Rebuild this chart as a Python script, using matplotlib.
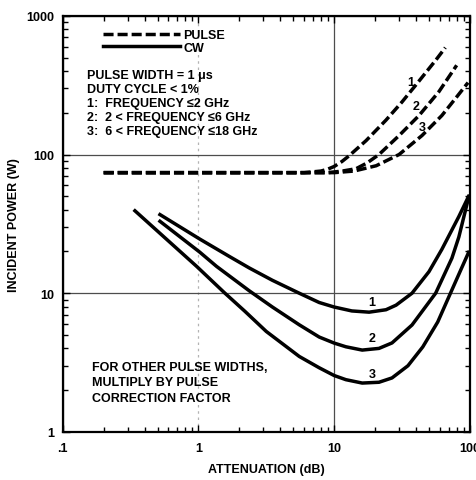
import numpy as np
from matplotlib import pyplot as plt

plt.rcParams['font.family'] = ['Liberation Sans', 'DejaVu Sans']
plt.rcParams['font.weight'] = 'bold'
plt.rcParams['axes.labelweight'] = 'bold'

# curves (attenuation dB, incident power W)
pulse1_db = [0.2, 1, 3, 6, 8, 9, 10, 11.4, 12.9, 17.2, 24.1, 31.6, 40.1, 56.2, 66]
pulse1_w = [74, 74, 74, 74, 76, 78.5, 82, 89, 98, 126, 177, 239, 318, 480, 590]
pulse2_db = [0.2, 1, 3, 6, 9, 11.5, 14.5, 17.5, 21.4, 30.1, 42.2, 59.2, 80]
pulse2_w = [74, 74, 74, 74, 74, 76, 79, 87, 100, 137, 191, 284, 440]
pulse3_db = [0.2, 1, 3, 6, 10, 14, 20.4, 30.1, 44.4, 62.2, 80, 97]
pulse3_w = [74, 74, 74, 74, 74, 76, 83, 100, 137, 191, 260, 330]

cw1_db = [0.52, 1.02, 1.69, 2.37, 3.5, 5.53, 7.76, 10, 13.5, 18.1, 24.1, 28.6, 37.5, 50, 62.2, 83, 98]
cw1_w = [36.9, 24.6, 18.4, 15.2, 12.4, 10.0, 8.57, 7.95, 7.45, 7.3, 7.6, 8.2, 10, 14.3, 20.7, 35.7, 50]
cw2_db = [0.52, 1.02, 1.36, 2.37, 3.5, 5.53, 7.76, 10, 12.2, 16.1, 21.4, 26.7, 37.5, 56, 73.8, 83, 98]
cw2_w = [33, 19.8, 15.6, 10.4, 7.96, 5.92, 4.83, 4.37, 4.11, 3.89, 4.0, 4.38, 5.9, 10, 17.9, 25.4, 49]
cw3_db = [0.34, 0.97, 1.55, 2.2, 3.16, 5.53, 7.76, 10, 12.2, 16.1, 21.4, 26.7, 35, 45, 58, 72, 86, 98]
cw3_w = [39.3, 15.6, 10.1, 7.4, 5.3, 3.5, 2.9, 2.55, 2.38, 2.25, 2.28, 2.45, 3.0, 4.1, 6.2, 10, 14.8, 19.7]

x_ticks = [0.1, 1, 10, 100]
x_labels = ['.1', '1', '10', '100']
y_ticks = [1, 10, 100, 1000]
y_labels = ['1', '10', '100', '1000']

info_lines = ['PULSE WIDTH = 1 \u03bcs',
              'DUTY CYCLE < 1%',
              '1:  FREQUENCY \u22642 GHz',
              '2:  2 < FREQUENCY \u22646 GHz',
              '3:  6 < FREQUENCY \u226418 GHz']
note_lines = ['FOR OTHER PULSE WIDTHS,',
              'MULTIPLY BY PULSE',
              'CORRECTION FACTOR']

fig = plt.figure(figsize=(4.76, 4.81), dpi=100)
ax = fig.add_axes([0.132, 0.100, 0.855, 0.865])

lw = 2.5
dash = (2.9, 1.15)
ax.plot(pulse1_db, pulse1_w, color='black', lw=lw, dashes=dash, label='PULSE')
ax.plot(pulse2_db, pulse2_w, color='black', lw=lw, dashes=dash)
ax.plot(pulse3_db, pulse3_w, color='black', lw=lw, dashes=dash)
ax.plot(cw1_db, cw1_w, color='black', lw=lw, solid_joinstyle='round', label='CW')
ax.plot(cw2_db, cw2_w, color='black', lw=lw, solid_joinstyle='round')
ax.plot(cw3_db, cw3_w, color='black', lw=lw, solid_joinstyle='round')

ax.set_xscale('log')
ax.set_yscale('log')
ax.set_xlim(0.1, 100)
ax.set_ylim(1, 1000)
ax.set_xticks(x_ticks, x_labels)
ax.set_yticks(y_ticks, y_labels)
ax.xaxis.set_minor_formatter(plt.NullFormatter())
ax.yaxis.set_minor_formatter(plt.NullFormatter())
ax.tick_params(which='both', direction='in', top=True, right=True, width=1, labelsize=9)
ax.tick_params(which='major', length=5)
ax.tick_params(which='minor', length=3.5)
ax.tick_params(axis='x', pad=7)
ax.tick_params(axis='y', pad=6)
for s in ax.spines.values():
    s.set_linewidth(1.6)

ax.grid(which='major', color='0.3', lw=0.9)
# the 1 dB line is only faintly printed
ax.xaxis.get_gridlines()[1].set_color('0.7')
ax.xaxis.get_gridlines()[1].set_linestyle((0, (2, 3)))

ax.set_xlabel('ATTENUATION (dB)', fontsize=9, labelpad=6.5)
ax.set_ylabel('INCIDENT POWER (W)', fontsize=9, labelpad=5)

for t, px, py in [('1', 36.8, 335), ('2', 40.1, 225), ('3', 44.4, 158),
                  ('1', 19, 8.6), ('2', 19, 4.75), ('3', 19, 2.6)]:
    ax.text(px, py, t, fontsize=9, ha='center', va='center')

for i, s in enumerate(info_lines):
    ax.text(0.059, 0.858 - i * 0.0335, s, transform=ax.transAxes, fontsize=9, va='center')
for i, s in enumerate(note_lines):
    ax.text(0.071, 0.156 - i * 0.037, s, transform=ax.transAxes, fontsize=9, va='center')

ax.legend(loc='upper left', bbox_to_anchor=(0.098, 0.968), frameon=False, fontsize=9,
          handlelength=6.2, handletextpad=0.25, labelspacing=0.05, borderpad=0, borderaxespad=0)

fig.savefig('out.png', dpi=100)
